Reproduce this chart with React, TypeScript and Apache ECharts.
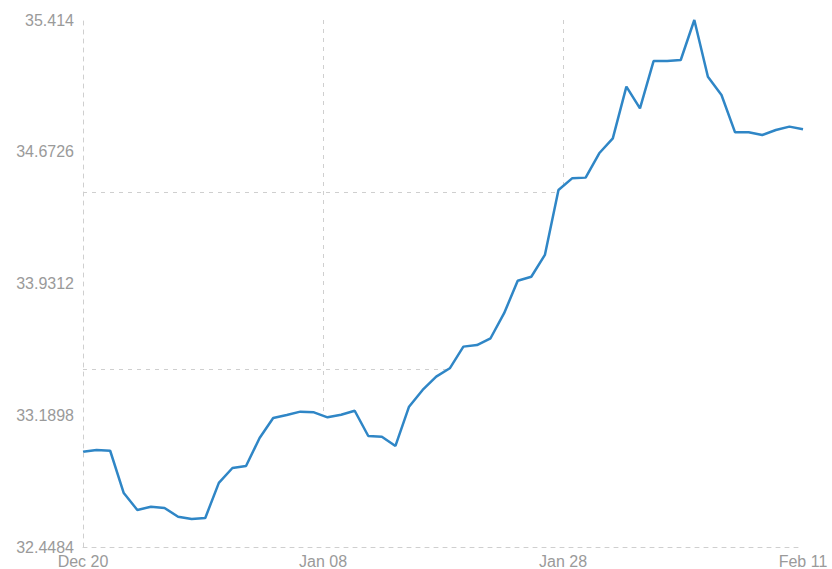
import React, { useEffect, useRef } from "react";
import * as echarts from "echarts";

const xTickLabels = ["Dec 20", "Jan 08", "Jan 28", "Feb 11"];
const yTickLabels = ["32.4484", "33.1898", "33.9312", "34.6726", "35.414"];

const seriesValues = [
  32.985, 32.994, 32.99, 32.752, 32.657, 32.675, 32.668, 32.619, 32.606, 32.612,
  32.809, 32.893, 32.904, 33.062, 33.174, 33.191, 33.21, 33.206, 33.178, 33.193,
  33.215, 33.073, 33.069, 33.017, 33.238, 33.332, 33.407, 33.454, 33.576, 33.585,
  33.623, 33.764, 33.947, 33.969, 34.092, 34.457, 34.523, 34.527, 34.664, 34.748,
  35.039, 34.917, 35.183, 35.183, 35.189, 35.414, 35.095, 34.992, 34.782, 34.782,
  34.767, 34.795, 34.814, 34.799,
];

const yMin = 32.4484;
const yMax = 35.414;

export default function App() {
  const ref = useRef<HTMLDivElement>(null);
  useEffect(() => {
    document.body.style.margin = "0";
    if (!ref.current) return;
    const chart = echarts.init(ref.current, undefined, { renderer: "svg" });
    const dash = { type: [4, 5] as any, color: "#cfcfcf", width: 1 };
    const labelStyle = {
      color: "#9a9a9a",
      fontSize: 16,
      fontFamily: "Liberation Sans, Arial, sans-serif",
    };
    chart.setOption({
      animation: false,
      grid: { left: 83, right: 29, top: 20, bottom: 22, containLabel: false },
      xAxis: [
        { type: "value", min: 0, max: seriesValues.length - 1, show: false, position: "bottom" },
        {
          type: "value",
          min: 0,
          max: xTickLabels.length - 1,
          interval: 1,
          position: "bottom",
          z: 10,
          axisLine: { show: true, onZero: false, lineStyle: dash },
          axisTick: { show: false },
          axisLabel: {
            ...labelStyle,
            margin: 6,
            formatter: (v: number) => xTickLabels[Math.round(v)] ?? "",
          },
          splitLine: { show: false },
        },
        {
          type: "value",
          min: 0,
          max: xTickLabels.length - 1,
          interval: 1,
          position: "bottom",
          z: 0,
          axisLine: { show: false },
          axisTick: { show: false },
          axisLabel: { show: false },
          splitLine: { show: true, showMinLine: false, showMaxLine: false, lineStyle: dash },
        },
      ],
      yAxis: [
        { type: "value", min: yMin, max: yMax, show: false, position: "left" },
        {
          type: "value",
          min: 0,
          max: yTickLabels.length - 1,
          interval: 1,
          position: "left",
          z: 10,
          axisLine: { show: true, onZero: false, lineStyle: dash },
          axisTick: { show: false },
          axisLabel: {
            ...labelStyle,
            margin: 9,
            formatter: (v: number) => yTickLabels[Math.round(v)] ?? "",
          },
          splitLine: { show: false },
        },
        {
          type: "value",
          min: 0,
          max: 2.97,
          interval: 1,
          position: "left",
          z: 0,
          axisLine: { show: false },
          axisTick: { show: false },
          axisLabel: { show: false },
          splitLine: { show: true, showMinLine: false, showMaxLine: false, lineStyle: dash },
        },
      ],
      series: [
        {
          type: "line",
          xAxisIndex: 0,
          yAxisIndex: 0,
          z: 2,
          data: seriesValues.map((v, i) => [i, v]),
          showSymbol: false,
          symbol: "none",
          lineStyle: { color: "#2f86c6", width: 2.5 },
          itemStyle: { color: "#2f86c6" },
          areaStyle: { color: "#ffffff", opacity: 1, origin: "start" },
          clip: false,
        },
      ],
    });
    return () => chart.dispose();
  }, []);
  return <div ref={ref} style={{ width: 832, height: 569 }} />;
}
